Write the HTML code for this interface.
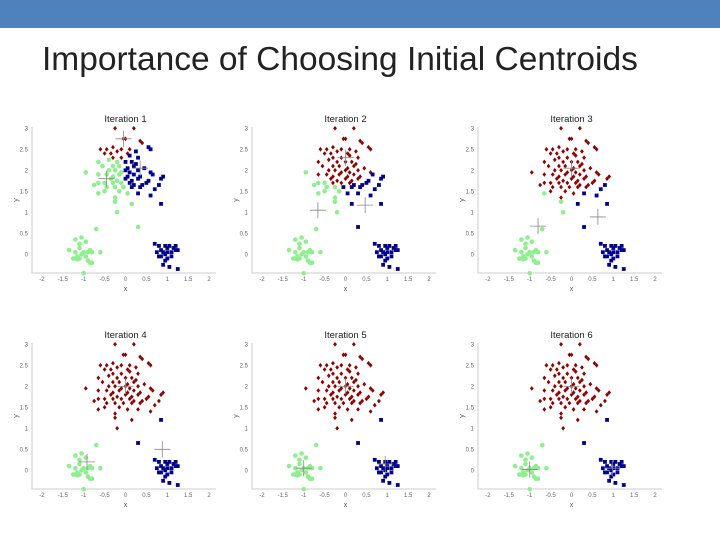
<!DOCTYPE html>
<html><head><meta charset="utf-8">
<style>
body{margin:0;width:720px;height:540px;background:#fff;overflow:hidden;font-family:"Liberation Sans",sans-serif}
#bar{position:absolute;left:0;top:0;width:720px;height:28px;background:#4f81bd}
#title{position:absolute;left:42px;top:41px;font-size:33.5px;color:#222;white-space:nowrap}
svg{position:absolute;left:0;top:0}
</style></head><body>
<div id="bar"></div>
<div id="title">Importance of Choosing Initial Centroids</div>
<svg id="s" width="720" height="540"></svg>
<script>
const px=[-1.35,-1.2,-1.1,-1.05,-0.95,-1.2,-1.15,-1.1,-1.05,-1,-0.95,-0.9,-0.85,-0.8,-0.85,-0.8,-1.2,-1.25,-0.6,-0.7,-1,-1.1,-0.9,-1.15,
0.7,0.8,0.85,0.95,1.0,1.05,1.15,1.2,1.25,0.75,0.9,0.95,1.0,1.1,1.2,0.85,1.0,1.1,0.95,0.9,1.05,1.25,0.8,0.85,0.3,
-0.25,0.2,-0.05,0,0.35,0.4,-0.6,-0.45,-0.3,-0.1,0.1,0.55,0.6,-0.5,-0.35,-0.2,0.05,0.25,-0.3,-0.1,0.1,0.3,-0.65,-0.4,-0.2,0,0.15,0.25,-0.55,-0.3,-0.15,0.05,0.2,0.45,-0.95,-0.4,-0.25,-0.1,0,0.1,0.3,0.6,0.65,-0.65,-0.45,-0.3,-0.15,0.05,0.2,0.35,0.9,0.85,-0.35,-0.2,0,0.15,0.3,0.55,-0.65,-0.5,-0.3,-0.1,0.1,0.2,0.4,0.5,0.8,-0.45,-0.25,-0.05,0.15,0.35,0.7,-0.65,-0.5,-0.15,0.05,0.3,0.6,-0.25,-0.25,0.15,-0.2,-0.75];
const py=[0.1,0.35,0.25,0.4,0.3,0.05,-0.05,-0.1,0,0.05,-0.05,0.05,0.1,0.05,-0.2,-0.2,-0.1,-0.1,0.05,0.6,-0.45,0.15,-0.15,-0.12,
0.25,0.2,0.1,0.2,0.15,0.2,0.15,0.2,0.1,0.05,0.05,0,0.05,0.05,0.1,-0.05,-0.1,-0.05,-0.15,-0.25,-0.3,-0.35,-0.05,1.2,0.65,
3,3,2.75,2.75,2.7,2.65,2.5,2.5,2.55,2.5,2.5,2.55,2.5,2.4,2.4,2.45,2.4,2.45,2.3,2.3,2.35,2.3,2.2,2.25,2.2,2.2,2.2,2.15,2.1,2.1,2.1,2.05,2.1,2.05,1.95,2,2,1.95,2,1.95,2,1.95,1.9,1.9,1.9,1.85,1.9,1.85,1.9,1.85,1.85,1.8,1.8,1.75,1.8,1.75,1.8,1.75,1.7,1.7,1.7,1.7,1.7,1.65,1.65,1.7,1.65,1.6,1.6,1.6,1.6,1.6,1.55,1.45,1.5,1.5,1.45,1.45,1.4,1.35,1.25,1.2,1.0,1.65];
// centroids per iteration: [red, green, blue]
const iterations=["Iteration 1","Iteration 2","Iteration 3","Iteration 4","Iteration 5","Iteration 6"];
const cRedX=[-0.05,0,0,0,0,0], cRedY=[2.75,2.3,2.05,2,2,2];
const cGreenX=[-0.45,-0.66,-0.8,-0.92,-1,-1], cGreenY=[1.8,1.05,0.67,0.2,0.05,0.02];
const cBlueX=[0.35,0.47,0.63,0.88,0.95,0.98], cBlueY=[2.05,1.17,0.89,0.5,0.15,0.05];
const xTicks=[-2,-1.5,-1,-0.5,0,0.5,1,1.5,2], yTicks=[0,0.5,1,1.5,2,2.5,3];
const colors=["#8b0000","#90ee90","#00008b"];
const NS="http://www.w3.org/2000/svg", S=document.getElementById('s');
const offX=[0,220,446], offY=[0,216];
function el(t,a,p){const e=document.createElementNS(NS,t);for(const k in a)e.setAttribute(k,a[k]);(p||S).appendChild(e);return e;}
iterations.forEach((name,i)=>{
  const ox=offX[i%3], oy=offY[Math.floor(i/3)];
  const g=el('g',{});
  
  
  const X=v=>ox+125.5+v*41.8, Y=v=>oy+254.3-v*42;
  const ax=el('path',{d:`M${ox+32} ${oy+127}V${oy+273}H${ox+216}`,stroke:'#ccc','stroke-width':1,fill:'none'},g);
  
  xTicks.forEach(t=>{const e=el('text',{x:X(t),y:oy+281,'font-size':6,fill:'#666','text-anchor':'middle'},g);e.textContent=String(t);
    });
  yTicks.forEach(t=>{const e=el('text',{x:ox+28,y:Y(t)+2,'font-size':6,fill:'#666','text-anchor':'end'},g);e.textContent=String(t);
    });
  let e=el('text',{x:X(0),y:oy+291,'font-size':7,fill:'#555','text-anchor':'middle'},g);e.textContent='x';
  
  e=el('text',{x:ox+18,y:oy+200,'font-size':7,fill:'#555','text-anchor':'middle',transform:`rotate(-90 ${ox+18} ${oy+200})`},g);e.textContent='y';
  
  e=el('text',{x:X(0),y:oy+122,'font-size':9.5,fill:'#222','text-anchor':'middle'},g);e.textContent=name;
  
  const cx=[cRedX[i],cGreenX[i],cBlueX[i]], cy=[cRedY[i],cGreenY[i],cBlueY[i]];
  px.forEach((x,j)=>{
    const y=py[j];let best=0,bd=1e9;
    for(let k=0;k<3;k++){const d=(x-cx[k])**2+(y-cy[k])**2;if(d<bd){bd=d;best=k;}}
    let m;
    if(best===0) m=el('path',{d:`M${X(x)} ${Y(y)-2.3}L${X(x)+1.9} ${Y(y)}L${X(x)} ${Y(y)+2.3}L${X(x)-1.9} ${Y(y)}Z`,fill:colors[0]},g);
    else if(best===1) m=el('circle',{cx:X(x),cy:Y(y),r:2.3,fill:colors[1]},g);
    else m=el('rect',{x:X(x)-1.9,y:Y(y)-1.9,width:3.8,height:3.8,fill:colors[2]},g);
    
    
  });
  for(let k=0;k<3;k++){
    const c=el('path',{d:`M${X(cx[k])-8} ${Y(cy[k])}h16M${X(cx[k])} ${Y(cy[k])-8}v16`,stroke:'#888','stroke-width':0.8},g);
    
    
  }
});
</script>
</body></html>
